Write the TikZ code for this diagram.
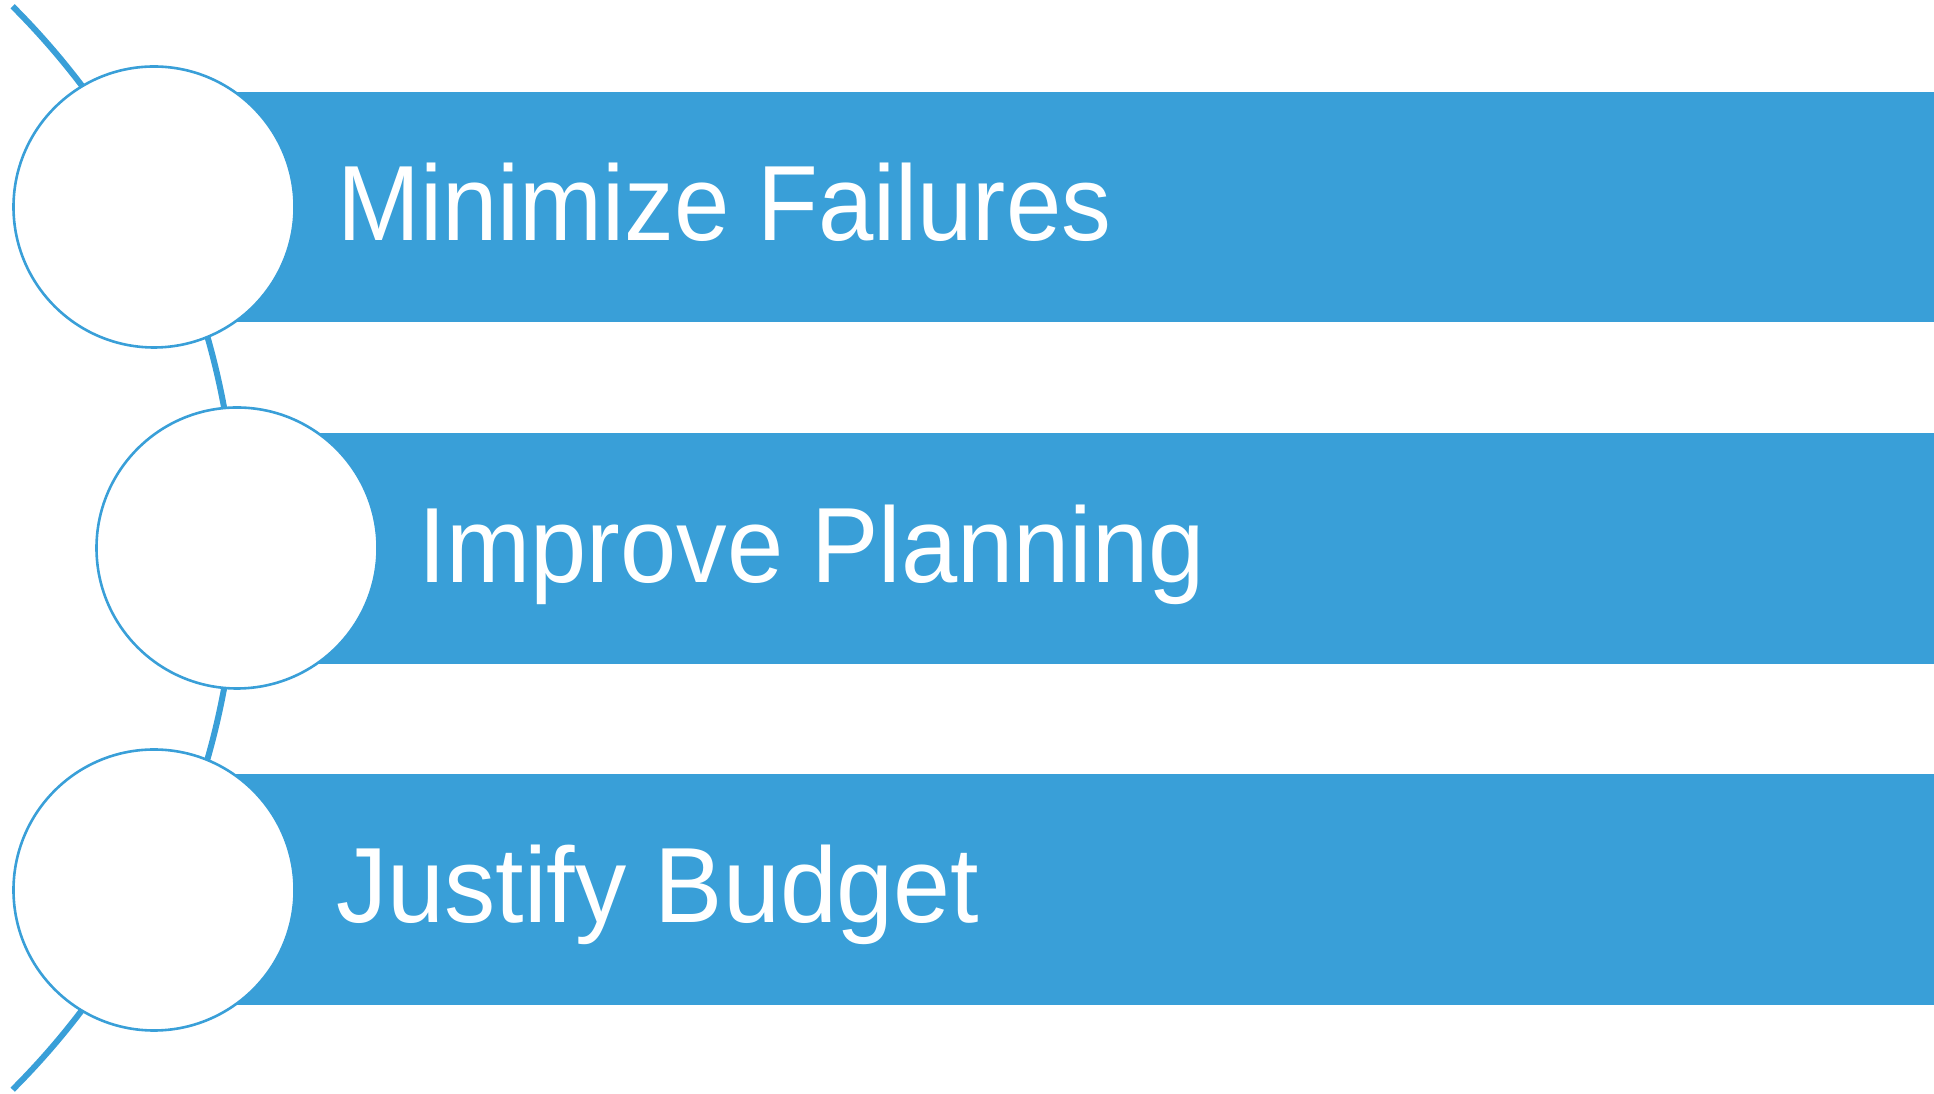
\documentclass[tikz,border=0pt]{standalone}
\usepackage{fontspec}
\setmainfont{Liberation Sans}
\usetikzlibrary{calc}
\definecolor{accent}{RGB}{57,159,216}
\begin{document}
\begin{tikzpicture}[x=1pt,y=1pt,
  bar/.style={fill=accent},
  bubble/.style={circle, draw=accent, line width=2.6pt, fill=white, minimum size=281pt, inner sep=0pt},
  label/.style={anchor=base west, inner sep=0pt, text=white, font=\fontsize{107}{120}\selectfont},
  spine/.style={draw=accent, line width=6pt}]
\useasboundingbox (0,0) rectangle (1934,1094);
% bars
\fill[bar] (154,772) rectangle (1934,1002);
\fill[bar] (237,430) rectangle (1934,661);
\fill[bar] (154,89) rectangle (1934,320);
% spine arc
\coordinate (arcstart) at ($(-529,546)+(45:766)$);
\draw[spine] (arcstart) arc[start angle=45, end angle=-45, radius=766];
% circles
\node[bubble] (c1) at (154,887) {};
\node[bubble] (c2) at (237,546) {};
\node[bubble] (c3) at (154,204) {};
% labels
\node[label] (t1) at (337,853) {\scalebox{0.93}[1]{Minimize Failures}};
\node[label] (t2) at (418,511) {\scalebox{0.945}[1]{Improve Planning}};
\node[label] (t3) at (336,171) {\scalebox{0.957}[1]{Justify Budget}};
\end{tikzpicture}
\end{document}
